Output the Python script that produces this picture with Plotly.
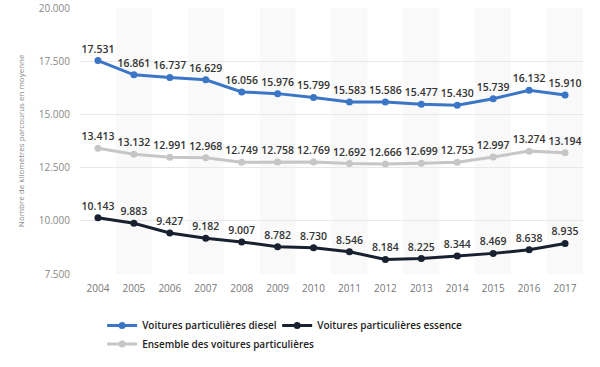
import plotly.graph_objects as go

years = ["2004", "2005", "2006", "2007", "2008", "2009", "2010", "2011", "2012", "2013", "2014", "2015", "2016", "2017"]
diesel = [17531, 16861, 16737, 16629, 16056, 15976, 15799, 15583, 15586, 15477, 15430, 15739, 16132, 15910]
essence = [10143, 9883, 9427, 9182, 9007, 8782, 8730, 8546, 8184, 8225, 8344, 8469, 8638, 8935]
ensemble = [13413, 13132, 12991, 12968, 12749, 12758, 12769, 12692, 12666, 12699, 12753, 12997, 13274, 13194]
y_ticks = [7500, 10000, 12500, 15000, 17500, 20000]
y_title = "Nombre de kilomètres parcourus en moyenne"

FONT = "Open Sans"

fig = go.Figure()

series = [
    ("Voitures particulières diesel", diesel, "#3b76c6", "legend"),
    ("Voitures particulières essence", essence, "#17212f", "legend2"),
    ("Ensemble des voitures particulières", ensemble, "#c6c6c6", "legend3"),
]
for name, vals, col, lg in series:
    fig.add_trace(go.Scatter(
        x=years, y=vals, name=name, mode="lines+markers+text",
        line=dict(color=col, width=3),
        marker=dict(color=col, size=7),
        texttemplate="%{y:,.0f}", textposition="top center",
        textfont=dict(family=FONT, size=10.5, color="#333333", weight=600),
        legend=lg, cliponaxis=False,
    ))

shapes = []
for i in range(1, len(years), 2):
    shapes.append(dict(type="rect", xref="x", yref="paper", x0=i - 0.5, x1=i + 0.5,
                       y0=0, y1=1, fillcolor="#f9f9f9", line=dict(width=0), layer="below"))

leg_font = dict(family=FONT, size=10, color="#222222", weight=600)
fig.update_layout(
    width=600, height=367,
    margin=dict(l=80, r=17, t=8, b=93, autoexpand=False),
    paper_bgcolor="white", plot_bgcolor="white",
    separators=",.",
    font=dict(family=FONT, size=10, color="#666666"),
    shapes=shapes,
    showlegend=True,
    legend=dict(orientation="h", x=0.044, xanchor="left", y=-0.139, yanchor="top",
                font=leg_font, itemwidth=30),
    legend2=dict(orientation="h", x=0.392, xanchor="left", y=-0.139, yanchor="top",
                 font=leg_font, itemwidth=30),
    legend3=dict(orientation="h", x=0.044, xanchor="left", y=-0.209, yanchor="top",
                 font=leg_font, itemwidth=30),
    xaxis=dict(type="category", showgrid=False, zeroline=False, showline=False,
               ticks="", tickfont=dict(size=10, color="#777777"), range=[-0.5, 13.5],
               ticklabelstandoff=7),
    yaxis=dict(range=[7500, 20000], tickvals=y_ticks, tickformat=",.0f",
               showgrid=True, gridcolor="#e8e8e8", gridwidth=1, zeroline=False,
               showline=False, ticks="", tickfont=dict(size=10, color="#888888"),
               automargin=False, ticklabeloverflow="allow", ticklabelstandoff=9),
    annotations=[dict(text=y_title, xref="paper", yref="paper", x=-0.119, y=0.5,
                      xanchor="center", yanchor="middle", textangle=-90, showarrow=False,
                      font=dict(family=FONT, size=8, color="#888888"))],
)

fig.write_html("out.html", config={"displayModeBar": False},
               post_script="document.body.style.margin='0';")
